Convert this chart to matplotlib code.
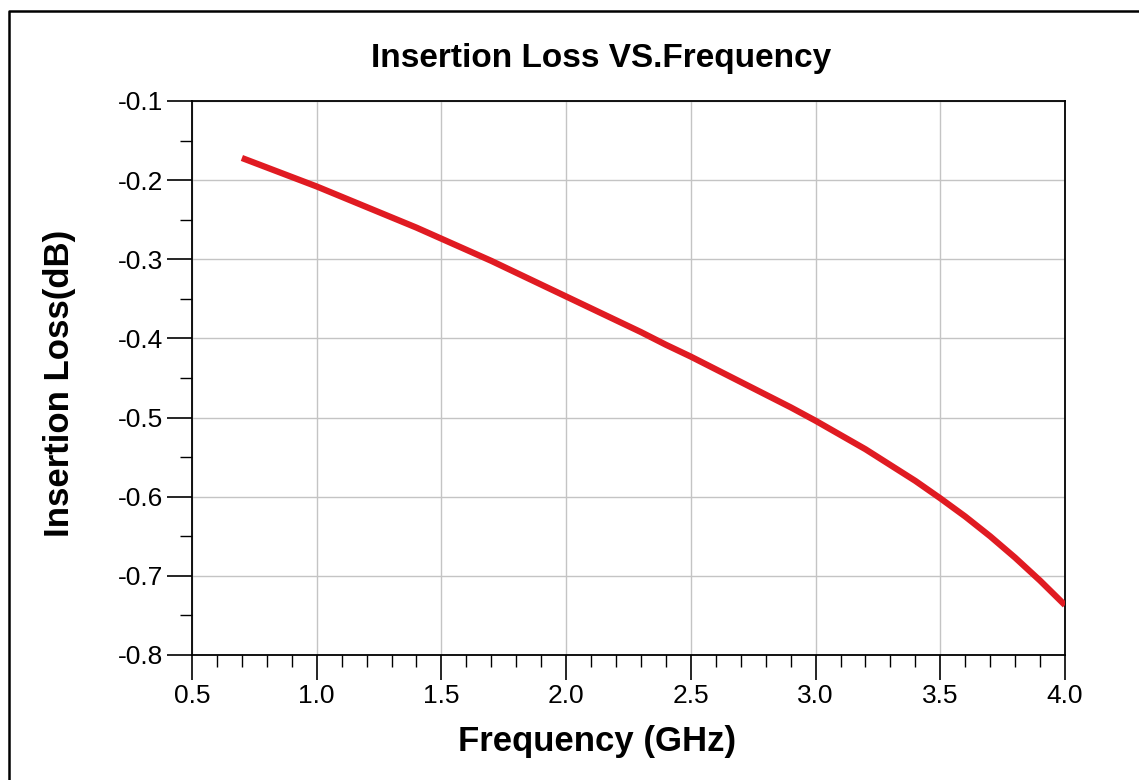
import numpy as np
import matplotlib.pyplot as plt
from matplotlib.lines import Line2D
from matplotlib.ticker import MultipleLocator

plt.rcParams['font.family'] = ['Liberation Sans', 'DejaVu Sans']

# data
freq_ghz = [0.7, 0.8, 0.9, 1.0, 1.1, 1.2, 1.3, 1.4, 1.5, 1.6, 1.7, 1.8, 1.9, 2.0,
            2.1, 2.2, 2.3, 2.4, 2.5, 2.6, 2.7, 2.8, 2.9, 3.0, 3.1, 3.2, 3.3, 3.4,
            3.5, 3.6, 3.7, 3.8, 3.9, 4.0]
loss_db = [-0.172, -0.184, -0.196, -0.208, -0.221, -0.234, -0.247, -0.260, -0.274,
           -0.288, -0.302, -0.317, -0.332, -0.347, -0.362, -0.377, -0.392, -0.408,
           -0.423, -0.439, -0.455, -0.471, -0.487, -0.504, -0.522, -0.540, -0.560,
           -0.580, -0.602, -0.625, -0.650, -0.677, -0.706, -0.737]

x_ticks = [0.5, 1.0, 1.5, 2.0, 2.5, 3.0, 3.5, 4.0]
y_ticks = [-0.8, -0.7, -0.6, -0.5, -0.4, -0.3, -0.2, -0.1]

W, H = 1139, 780
fig = plt.figure(figsize=(W / 100, H / 100), dpi=100)
ax = fig.add_axes([192 / W, 1 - 655 / H, (1065 - 192) / W, (655 - 101) / H])

ax.plot(freq_ghz, loss_db, color='#e01b22', lw=4.5, solid_capstyle='butt',
        solid_joinstyle='round', zorder=3)

ax.set_xlim(0.5, 4.0)
ax.set_ylim(-0.8, -0.1)
ax.set_xticks(x_ticks)
ax.set_xticklabels([f'{t:.1f}' for t in x_ticks])
ax.set_yticks(y_ticks)
ax.set_yticklabels([f'{t:.1f}' for t in y_ticks])
ax.xaxis.set_minor_locator(MultipleLocator(0.1))
ax.yaxis.set_minor_locator(MultipleLocator(0.05))

ax.tick_params(which='major', direction='out', length=18, width=1.2, labelsize=19, pad=3)
ax.tick_params(which='minor', direction='out', length=8.5, width=1.0)
ax.grid(True, which='major', color='#c4c4c4', lw=1.0)
for s in ax.spines.values():
    s.set_linewidth(1.3)

fig.text(601 / W, 1 - 59 / H, 'Insertion Loss VS.Frequency', ha='center', va='center',
         fontsize=24, fontweight='bold')
fig.text(597 / W, 1 - 741 / H, 'Frequency (GHz)', ha='center', va='center',
         fontsize=25, fontweight='bold')
fig.text(60 / W, 1 - 383 / H, 'Insertion Loss(dB)', ha='center', va='center',
         fontsize=25, fontweight='bold', rotation=90)

# frame lines on the top and left edges of the picture
fig.lines.append(Line2D([9 / W, 9 / W, 1], [0, 1 - 11 / H, 1 - 11 / H],
                        transform=fig.transFigure, lw=1.8, color='black'))

fig.savefig('out.png', dpi=100)
